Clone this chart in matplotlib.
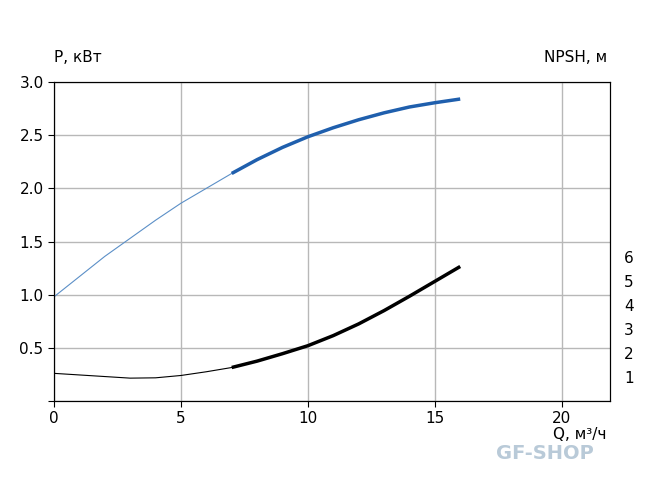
import numpy as np
import matplotlib.pyplot as plt

# power curve P(Q): thin part, then working range
q_p_thin = [0, 1, 2, 3, 4, 5, 6, 7]
p_thin = [0.98, 1.17, 1.36, 1.53, 1.70, 1.86, 2.00, 2.14]
q_p_work = [7, 8, 9, 10, 11, 12, 13, 14, 15, 16]
p_work = [2.14, 2.27, 2.385, 2.485, 2.57, 2.645, 2.71, 2.765, 2.805, 2.84]

# NPSH curve (as drawn on the P scale)
q_n_thin = [0, 1, 2, 3, 4, 5, 6, 7]
n_thin = [0.26, 0.245, 0.23, 0.215, 0.218, 0.24, 0.275, 0.315]
q_n_work = [7, 8, 9, 10, 11, 12, 13, 14, 15, 16]
n_work = [0.315, 0.375, 0.445, 0.52, 0.615, 0.725, 0.85, 0.985, 1.125, 1.265]

x_ticks = [0, 5, 10, 15, 20]
y_ticks = [0.5, 1.0, 1.5, 2.0, 2.5, 3.0]
npsh_ticks = [1, 2, 3, 4, 5, 6]

plt.rcParams['font.family'] = 'DejaVu Sans'
fig = plt.figure(figsize=(6.5, 4.86), dpi=100)
ax = fig.add_axes([54/650, 1-401/486, (610-54)/650, (401-82)/486])

ax.plot(q_p_thin, p_thin, color='#5b8fc7', lw=0.8)
ax.plot(q_p_work, p_work, color='#1f5fad', lw=2.5, solid_capstyle='butt')
ax.plot(q_n_thin, n_thin, color='black', lw=0.8)
ax.plot(q_n_work, n_work, color='black', lw=2.5, solid_capstyle='butt')

ax.set_xlim(0, 21.9)
ax.set_ylim(0, 3.0)
ax.set_xticks(x_ticks)
ax.set_yticks([0] + y_ticks)
ax.set_yticklabels([''] + ['%.1f' % v for v in y_ticks])
ax.grid(True, color='#b8b8b8', lw=1)
ax.tick_params(labelsize=11, length=4)
for s in ax.spines.values():
    s.set_color('black')

ax2 = ax.twinx()
ax2.set_ylim(0, 13.3)
ax2.set_yticks(npsh_ticks)
ax2.tick_params(length=0, pad=10, labelsize=11)

fig.text(78/650, 1-57/486, 'P, кВт', ha='center', va='center', fontsize=11)
fig.text(576/650, 1-57/486, 'NPSH, м', ha='center', va='center', fontsize=11)
fig.text(580/650, 1-434/486, 'Q, м³/ч', ha='center', va='center', fontsize=11)
fig.text(545/650, 1-453/486, 'GF-SHOP', ha='center', va='center', fontsize=14,
         fontweight='heavy', color='#b9cad8')

fig.savefig('out.png', dpi=100)
